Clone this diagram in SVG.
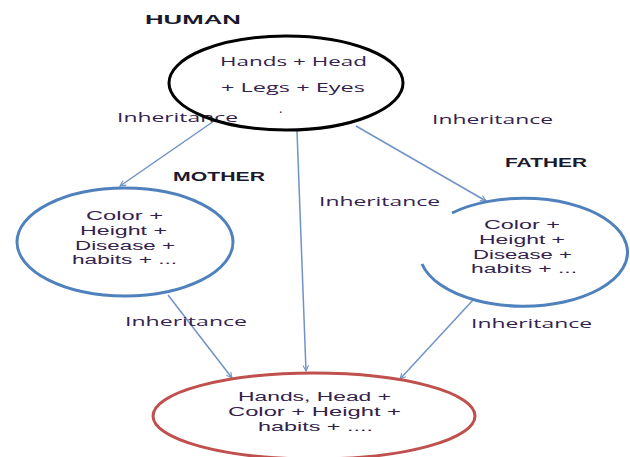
<svg xmlns="http://www.w3.org/2000/svg" width="630" height="457" viewBox="0 0 630 457">
<defs>
<style>
.t{font-family:"Open Sans","Liberation Sans",sans-serif;font-size:13px;fill:#33224d}
.n{font-family:"Liberation Sans",sans-serif;font-size:12.5px;fill:#33224d}
.b{font-family:"Liberation Sans",sans-serif;font-size:13px;font-weight:bold;fill:#1a1a2e}
.c{stroke:#6f93c6;stroke-width:1.5;fill:none;marker-end:url(#ah)}
</style>
<marker id="ah" viewBox="0 0 10 10" refX="9" refY="5" markerWidth="7" markerHeight="7" orient="auto" markerUnits="userSpaceOnUse">
<path d="M1,1 L9,5 L1,9" fill="none" stroke="#6f93c6" stroke-width="1.5"/>
</marker>
</defs>
<rect width="630" height="457" fill="#fff"/>
<g id="connectors">
<line class="c" x1="214" y1="121" x2="120" y2="186"/>
<line class="c" x1="297" y1="131" x2="306" y2="371"/>
<line class="c" x1="356" y1="126" x2="486" y2="201"/>
<line class="c" x1="168" y1="295" x2="232" y2="378"/>
<line class="c" x1="473" y1="300" x2="400" y2="379"/>
</g>
<g id="labels">
<text class="t" x="117" y="122" textLength="121" lengthAdjust="spacingAndGlyphs">Inheritance</text>
<text class="t" x="432" y="124" textLength="121" lengthAdjust="spacingAndGlyphs">Inheritance</text>
<text class="t" x="319" y="206" textLength="121" lengthAdjust="spacingAndGlyphs">Inheritance</text>
<text class="t" x="125" y="326" textLength="122" lengthAdjust="spacingAndGlyphs">Inheritance</text>
<text class="t" x="471" y="328" textLength="121" lengthAdjust="spacingAndGlyphs">Inheritance</text>
</g>
<g id="human">
<ellipse cx="286" cy="83" rx="117" ry="47" fill="none" stroke="#000" stroke-width="3"/>
<text class="b" x="145" y="24" textLength="96" lengthAdjust="spacingAndGlyphs">HUMAN</text>
<text class="t" x="220" y="66" textLength="147" lengthAdjust="spacingAndGlyphs">Hands + Head</text>
<text class="t" x="221" y="92" textLength="144" lengthAdjust="spacingAndGlyphs">+ Legs + Eyes</text>
<text class="t" x="279" y="113">.</text>
</g>
<g id="mother">
<ellipse cx="125" cy="242" rx="108" ry="54" fill="none" stroke="#4f81bd" stroke-width="3"/>
<text class="b" x="173" y="181" textLength="92" lengthAdjust="spacingAndGlyphs">MOTHER</text>
<text class="n" x="86" y="220" textLength="77" lengthAdjust="spacingAndGlyphs">Color +</text>
<text class="n" x="80" y="235" textLength="87" lengthAdjust="spacingAndGlyphs">Height +</text>
<text class="n" x="75" y="250" textLength="100" lengthAdjust="spacingAndGlyphs">Disease +</text>
<text class="n" x="72" y="264" textLength="105" lengthAdjust="spacingAndGlyphs">habits + ...</text>
</g>
<g id="father">
<path d="M452,213 A104,54 0 1 1 422,264" fill="none" stroke="#4f81bd" stroke-width="3"/>
<text class="b" x="505" y="167" textLength="82" lengthAdjust="spacingAndGlyphs">FATHER</text>
<text class="n" x="484" y="229" textLength="76" lengthAdjust="spacingAndGlyphs">Color +</text>
<text class="n" x="479" y="244" textLength="86" lengthAdjust="spacingAndGlyphs">Height +</text>
<text class="n" x="473" y="259" textLength="99" lengthAdjust="spacingAndGlyphs">Disease +</text>
<text class="n" x="471" y="273" textLength="106" lengthAdjust="spacingAndGlyphs">habits + ...</text>
</g>
<g id="child">
<ellipse cx="314" cy="416" rx="161" ry="43" fill="none" stroke="#c0504d" stroke-width="3"/>
<text class="n" x="238" y="401" textLength="153" lengthAdjust="spacingAndGlyphs">Hands, Head +</text>
<text class="n" x="228" y="416" textLength="173" lengthAdjust="spacingAndGlyphs">Color + Height +</text>
<text class="n" x="258" y="431" textLength="115" lengthAdjust="spacingAndGlyphs">habits + ....</text>
</g>
</svg>
